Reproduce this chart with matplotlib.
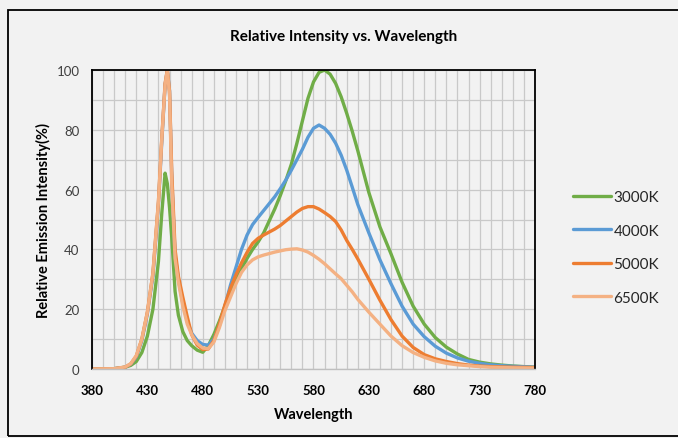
import matplotlib
matplotlib.use("Agg")
import matplotlib.pyplot as plt
from matplotlib.ticker import MultipleLocator
from matplotlib.patches import Rectangle

plt.rcParams['font.family'] = ['Lato', 'DejaVu Sans']

# wavelengths (nm)
wl = [380, 400, 410, 415, 420, 425, 430, 435, 440, 443, 446, 448, 450, 452, 455, 458,
      462, 466, 470, 475, 480, 485, 490, 495, 500, 505, 510, 515, 520, 525, 530, 535,
      540, 545, 550, 555, 560, 565, 570, 575, 580, 585, 590, 595, 600, 605, 610, 615,
      620, 630, 640, 650, 660, 670, 680, 690, 700, 710, 720, 730, 740, 750, 760, 780]

k3000 = [0, 0.1, 0.6, 1.2, 2.5, 5.5, 11, 20, 36, 52, 65.5, 62, 54, 44, 26, 18,
         12.5, 9.5, 7.8, 6.3, 5.6, 7.8, 11.5, 16, 21, 25.5, 29.8, 33.5, 37, 40, 42.5, 45.5,
         49.5, 53.5, 58, 63, 68.5, 75.5, 83, 90.5, 96, 99.2, 100, 98.6, 95.5, 91, 85.5, 79.5,
         73, 59, 47.5, 38.5, 29, 21, 15, 10.5, 7.3, 5, 3.2, 2.3, 1.7, 1.3, 1.0, 0.6]

k4000 = [0, 0.1, 0.6, 1.6, 4, 9.5, 18.5, 31, 55, 76, 95, 100, 93, 64, 38, 30,
         22, 16, 12, 9.5, 8.2, 8, 10, 14.5, 21, 28, 34, 40, 44.8, 48.3, 50.7, 53,
         55.3, 57.6, 60.3, 63.2, 66.5, 70, 73.5, 77.5, 80.5, 81.6, 80.5, 78.5, 75.5, 71.5, 66.5, 60.8,
         55, 45.5, 36.5, 28.5, 21, 15, 10.8, 7.6, 5.3, 3.7, 2.6, 1.9, 1.4, 1.1, 0.9, 0.6]

k5000 = [0, 0.1, 0.6, 1.7, 4.3, 10, 19, 32, 56, 77, 95.5, 100, 93, 66, 40, 31,
         24, 17.5, 11.5, 8, 6.5, 6.7, 9.5, 15, 21.5, 27, 31.5, 35.5, 39, 42, 43.7, 44.8,
         45.8, 46.8, 48, 49.5, 51, 52.5, 53.7, 54.3, 54.3, 53.5, 52.3, 51, 49.3, 46.5, 43, 40,
         36.8, 30, 23, 16.5, 11, 7.2, 4.8, 3.4, 2.5, 1.8, 1.3, 1.0, 0.8, 0.7, 0.6, 0.5]

k6500 = [0, 0.1, 0.7, 1.8, 4.5, 10, 19, 32, 56, 77, 95, 100, 92, 62, 37, 29,
         21, 15, 11.5, 8.5, 7, 6.8, 9, 13.8, 19.5, 24, 28.5, 32.3, 34.8, 36.5, 37.5, 38.1,
         38.6, 39.1, 39.5, 39.9, 40.1, 40.2, 39.8, 39.1, 38, 36.7, 35.2, 33.5, 31.8, 30.2, 28, 25.8,
         23.3, 19, 15, 11, 7.8, 5.5, 3.9, 2.7, 1.9, 1.4, 1.1, 0.8, 0.6, 0.5, 0.4, 0.3]

labels = ["3000K", "4000K", "5000K", "6500K"]
colors = ["#70ad47", "#5b9bd5", "#ed7d31", "#f4b183"]
series = [k3000, k4000, k5000, k6500]

bg = "#f2f2f2"
fig = plt.figure(figsize=(6.78, 4.39), dpi=100, facecolor=bg)
ax = fig.add_axes([92 / 678, 1 - 370 / 439, 443 / 678, 299 / 439], facecolor=bg)

for vals, lab, c in zip(series, labels, colors):
    ax.plot(wl, vals, color=c, lw=2.4, label=lab,
            solid_capstyle="round", solid_joinstyle="round")

ax.set_xlim(380, 780)
ax.set_ylim(0, 100)
ax.set_xticks(range(380, 781, 50))
ax.xaxis.set_minor_locator(MultipleLocator(10))
ax.set_yticks(range(0, 101, 20))
ax.yaxis.set_minor_locator(MultipleLocator(10))
ax.grid(True, which="both", color="#c9c9c9", lw=0.9)
ax.set_axisbelow(True)

ax.tick_params(which="both", length=0)
ax.tick_params(axis="y", pad=9, labelsize=9.5, labelcolor="#404040")
ax.tick_params(axis="x", pad=11, labelsize=9.5)
for t in ax.get_xticklabels():
    t.set_fontweight("bold")

for s in ["left", "top", "right"]:
    ax.spines[s].set_color("black")
    ax.spines[s].set_linewidth(1.3)
ax.spines["bottom"].set_color("#bfbfbf")
ax.spines["bottom"].set_linewidth(1.0)

ax.set_xlabel("Wavelength", fontsize=10.5, fontweight="bold", labelpad=8)
ax.set_ylabel("Relative Emission Intensity(%)", fontsize=10.5, fontweight="bold", labelpad=4)

fig.text(344 / 678, 1 - 37 / 439, "Relative Intensity vs. Wavelength",
         ha="center", va="center", fontsize=11, fontweight="bold")

ax.legend(loc="center left", bbox_to_anchor=(573 / 678, 1 - 248.5 / 439),
          bbox_transform=fig.transFigure, frameon=False, fontsize=11,
          handlelength=2.5, handletextpad=0.15, labelspacing=1.28,
          borderpad=0, borderaxespad=0, labelcolor="#262626")

fig.add_artist(Rectangle((7.5 / 678, 2.5 / 439), 1.0, 1 - 13 / 439,
                         transform=fig.transFigure, fill=False,
                         edgecolor="black", lw=1.3))

fig.savefig("out.png", dpi=100, facecolor=bg)
